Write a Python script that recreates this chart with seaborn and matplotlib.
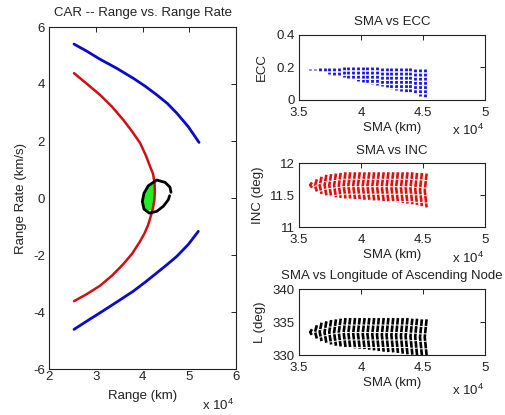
import numpy as np
import pandas as pd
import matplotlib
matplotlib.use("Agg")
import matplotlib.pyplot as plt
import seaborn as sns

# ---------------- data: left panel (range in km, range rate in km/s) ----------------
blue_up_range = [25350, 28000, 30900, 34500, 38030, 40600, 43040, 45300, 47320, 49800, 52090]
blue_up_rate = [5.40, 5.16, 4.87, 4.55, 4.20, 3.92, 3.62, 3.32, 2.98, 2.50, 1.95]
blue_lo_range = [25350, 28000, 30900, 34500, 38030, 40600, 43040, 45300, 47320, 49800, 51940]
blue_lo_rate = [-4.61, -4.33, -4.03, -3.65, -3.27, -2.95, -2.63, -2.33, -2.05, -1.63, -1.17]
red_range = [25350, 28000, 30900, 33500, 35890, 37800, 39480, 40700, 41610, 42250, 42550,
             42650, 42550, 42250, 41840, 41200, 40400, 39480, 37800, 35890, 33500, 30900,
             28000, 25350]
red_rate = [4.38, 4.02, 3.62, 3.20, 2.74, 2.33, 1.93, 1.50, 1.11, 0.85, 0.55,
            0.25, -0.05, -0.35, -0.60, -0.95, -1.25, -1.52, -1.95, -2.32, -2.72, -3.08,
            -3.38, -3.62]
ell_range = [46096, 45882, 44813, 43030, 41248, 40321, 39964, 40321, 41461, 43030, 44456,
             45526, 45800]
ell_rate = [0.20, 0.38, 0.55, 0.63, 0.43, 0.17, -0.12, -0.39, -0.53, -0.47, -0.29,
            -0.06, 0.08]
green_range = [40321, 41248, 42674, 42888, 42460, 41961, 40892, 40036, 39964]
green_rate = [0.17, 0.43, 0.58, 0.41, -0.06, -0.41, -0.47, -0.23, -0.06]

# ---------------- data: right panels (one entry per SMA column) ----------------
sma_cols = [35900, 36290, 36670, 37060, 37440, 37830, 38210, 38600, 38980, 39370, 39750,
            40140, 40520, 40910, 41290, 41680, 42060, 42450, 42830, 43220, 43600, 43990,
            44370, 44760, 45140]
ecc_top = [0.190, 0.192, 0.194, 0.196, 0.197, 0.198, 0.199, 0.200, 0.200, 0.200, 0.200,
           0.200, 0.200, 0.200, 0.200, 0.199, 0.199, 0.198, 0.197, 0.196, 0.195, 0.194,
           0.192, 0.190, 0.188]
ecc_bot = [0.186, 0.183, 0.176, 0.169, 0.162, 0.155, 0.148, 0.140, 0.133, 0.126, 0.119,
           0.112, 0.105, 0.098, 0.091, 0.084, 0.077, 0.070, 0.063, 0.056, 0.049, 0.041,
           0.034, 0.027, 0.020]
inc_top = [11.70, 11.75, 11.79, 11.82, 11.83, 11.84, 11.85, 11.86, 11.86, 11.86, 11.86,
           11.86, 11.86, 11.86, 11.86, 11.86, 11.86, 11.86, 11.86, 11.86, 11.86, 11.86,
           11.85, 11.85, 11.84]
inc_mid = [11.66, 11.655, 11.655, 11.66, 11.655, 11.655, 11.655, 11.655, 11.655, 11.65, 11.65,
           11.645, 11.645, 11.64, 11.64, 11.635, 11.63, 11.63, 11.625, 11.62, 11.615, 11.61,
           11.60, 11.59, 11.575]
inc_bot = [11.62, 11.56, 11.52, 11.50, 11.48, 11.47, 11.46, 11.45, 11.45, 11.44, 11.44,
           11.43, 11.43, 11.42, 11.42, 11.41, 11.40, 11.40, 11.39, 11.38, 11.37, 11.36,
           11.35, 11.33, 11.31]
lan_top = [333.9, 334.5, 334.9, 335.1, 335.3, 335.4, 335.5, 335.6, 335.6, 335.6, 335.6,
           335.6, 335.6, 335.6, 335.6, 335.6, 335.6, 335.6, 335.6, 335.6, 335.6, 335.5,
           335.5, 335.4, 335.4]
lan_mid = [333.45, 333.5, 333.5, 333.45, 333.45, 333.4, 333.4, 333.4, 333.35, 333.3, 333.3,
           333.25, 333.2, 333.15, 333.1, 333.05, 333.0, 333.0, 332.95, 332.9, 332.85, 332.8,
           332.75, 332.7, 332.7]
lan_bot = [333.0, 332.5, 332.1, 331.8, 331.6, 331.4, 331.3, 331.2, 331.1, 331.0, 330.95,
           330.9, 330.8, 330.7, 330.6, 330.5, 330.45, 330.4, 330.3, 330.2, 330.1, 330.05,
           330.0, 330.0, 330.0]

left_xticks = [20000, 30000, 40000, 50000, 60000]
left_yticks = [-6, -4, -2, 0, 2, 4, 6]
right_xticks = [35000, 40000, 45000, 50000]

# ---------------- style ----------------
sns.set_theme(style="white")
plt.rcParams["font.family"] = ["Liberation Sans", "DejaVu Sans"]
plt.rcParams["axes.unicode_minus"] = False
plt.rcParams["mathtext.fontset"] = "custom"
plt.rcParams["mathtext.rm"] = "Liberation Sans"
FS = 9.5
TXT = "#222222"

W, H = 505, 415
fig = plt.figure(figsize=(W / 100, H / 100), dpi=100)


def ax_at(l, t, r, b):
    return fig.add_axes([l / W, 1 - b / H, (r - l) / W, (b - t) / H])


def style_axes(ax, xpad):
    for s in ax.spines.values():
        s.set_color(TXT)
        s.set_linewidth(0.8)
    ax.tick_params(direction="in", top=True, right=True, length=3.5, width=0.7,
                   labelsize=FS, colors=TXT, labelcolor=TXT)
    ax.tick_params(axis="x", pad=xpad)
    ax.tick_params(axis="y", pad=3)


def fmt_e4(v, pos):
    return "%g" % (v / 1e4)


# ---------------- left panel ----------------
axL = ax_at(49, 27, 236, 369)
style_axes(axL, 1.5)
axL.fill(green_range, green_rate, color="#22ee22", lw=0, zorder=1)
common = dict(sort=False, estimator=None, ax=axL)
sns.lineplot(x=blue_up_range, y=blue_up_rate, color="#0a0acc", lw=2.0, zorder=3, **common)
sns.lineplot(x=blue_lo_range, y=blue_lo_rate, color="#0a0acc", lw=2.0, zorder=3, **common)
sns.lineplot(x=red_range, y=red_rate, color="#d01010", lw=1.8, zorder=3, **common)
sns.lineplot(x=ell_range, y=ell_rate, color="black", lw=2.0, zorder=4, **common)
axL.set_xlim(20000, 60000)
axL.set_ylim(-6, 6)
axL.set_xticks(left_xticks)
axL.set_yticks(left_yticks)
axL.xaxis.set_major_formatter(matplotlib.ticker.FuncFormatter(fmt_e4))
axL.set_title("CAR -- Range vs. Range Rate", fontsize=FS, pad=8, color=TXT)
axL.set_xlabel("Range (km)", fontsize=FS, labelpad=5, color=TXT)
axL.set_ylabel("Range Rate (km/s)", fontsize=FS, labelpad=4, color=TXT)
fig.text(234 / W, 1 - 405 / H, "x 10$^4$", ha="right", va="center", fontsize=FS, color=TXT)


# ---------------- right panels ----------------
def column_table(top, mid, bot, bow):
    rows = []
    for i, s in enumerate(sma_cols):
        rows.append((s + bow, top[i], i))
        rows.append((s, mid[i], i))
        rows.append((s + bow, bot[i], i))
    return pd.DataFrame(rows, columns=["sma", "val", "col"])


ecc_mid = [(a + b) / 2 for a, b in zip(ecc_top, ecc_bot)]
panels = [
    ((34.7, 100), column_table(ecc_top, ecc_mid, ecc_bot, 0), "#1414e6", (0, 0.4), [0, 0.2, 0.4],
     "SMA vs ECC", "ECC", (0, (1.0, 0.5)), 2.0, 130, 6),
    ((163.3, 227.3), column_table(inc_top, inc_mid, inc_bot, 150), "#e01010", (11, 12), [11, 11.5, 12],
     "SMA vs INC", "INC (deg)", (0, (2.5, 0.35)), 1.9, 258, 4),
    ((289, 355), column_table(lan_top, lan_mid, lan_bot, 150), "black", (330, 340), [330, 335, 340],
     "SMA vs Longitude of Ascending Node", "L (deg)", (0, (2.5, 0.35)), 1.9, 390, 5),
]

for (t, b), df, col, ylim, yt, title, ylab, ls, lw, xt_y, ylpad in panels:
    ax = ax_at(299, t, 485, b)
    style_axes(ax, 5)
    sns.lineplot(data=df, x="sma", y="val", units="col", estimator=None, sort=False,
                 ax=ax, color=col, lw=lw, linestyle=ls, legend=False)
    ax.set_xlim(35000, 50000)
    ax.set_ylim(*ylim)
    ax.set_xticks(right_xticks)
    ax.set_yticks(yt)
    ax.yaxis.set_major_formatter(matplotlib.ticker.FuncFormatter(lambda v, p: "%g" % v))
    ax.xaxis.set_major_formatter(matplotlib.ticker.FuncFormatter(fmt_e4))
    ax.set_title(title, fontsize=FS, pad=7, color=TXT)
    ax.set_xlabel("SMA (km)", fontsize=FS, labelpad=2, color=TXT)
    ax.set_ylabel(ylab, fontsize=FS, labelpad=ylpad, color=TXT)
    fig.text(484 / W, 1 - xt_y / H, "x 10$^4$", ha="right", va="center", fontsize=FS, color=TXT)

fig.savefig("out.png", dpi=100, facecolor="white")
